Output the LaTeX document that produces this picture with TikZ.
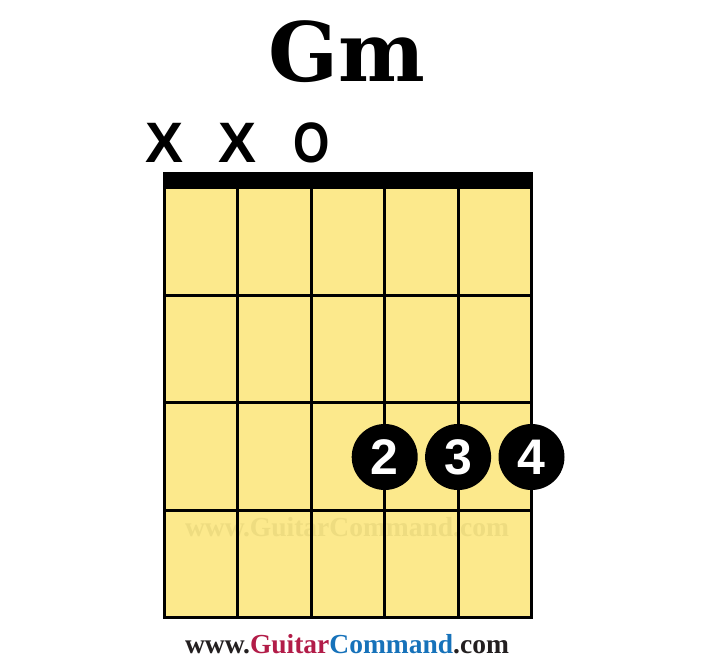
\documentclass[tikz,border=0pt]{standalone}
\usepackage{fontspec}
\setmainfont{Liberation Serif}
\setsansfont{Liberation Sans}
\newfontfamily\titlefont{DejaVu Serif}
\usetikzlibrary{positioning}
\definecolor{board}{RGB}{252,233,140}
\definecolor{markcol}{RGB}{238,220,128}
\definecolor{guitarred}{RGB}{178,28,72}
\definecolor{commandblue}{RGB}{22,114,186}
\definecolor{ink}{RGB}{35,31,32}
\begin{document}
\begin{tikzpicture}[x=1pt,y=-1pt,
 fingerdot/.style={circle,fill=black,text=white,minimum size=66pt,inner sep=0pt,
  font=\sffamily\bfseries\fontsize{50}{50}\selectfont},
 stringmark/.style={anchor=base,font=\sffamily\bfseries\fontsize{57}{57}\selectfont},
 sitename/.style={anchor=base,font=\bfseries\fontsize{27.5}{27.5}\selectfont}]
\useasboundingbox (0,0) rectangle (710,660);
% chord name and open/muted strings
\node[anchor=base,font=\titlefont\bfseries\fontsize{82}{82}\selectfont] (title) at (347,82) {Gm};
\node[stringmark] (mute1) at (164.5,163) {X};
\node[stringmark] (mute2) at (237.9,163) {X};
\node[stringmark,xscale=.82] (open3) at (311.3,163) {O};
% fretboard
\fill[board] (164.5,189) rectangle (531.5,617);
\node[sitename,text=markcol] (watermark) at (347,536) {www.GuitarCommand.com};
\begin{scope}[line width=3pt]
\foreach \s in {0,...,5}{
 \draw (164.5+73.4*\s,189)--(164.5+73.4*\s,618.5);
}
\foreach \f in {1,...,4}{
 \draw (163,189+107*\f)--(533,189+107*\f);
}
\end{scope}
\fill (163,172) rectangle (533,189);
% fingers
\foreach \s/\n in {3/2,4/3,5/4}{
 \node[fingerdot] (finger\n) at (164.5+73.4*\s,457) {\n};
}
\node[sitename,text=ink] (site) at (347,653)
 {www.\textcolor{guitarred}{Guitar}\textcolor{commandblue}{Command}.com};
\end{tikzpicture}
\end{document}
